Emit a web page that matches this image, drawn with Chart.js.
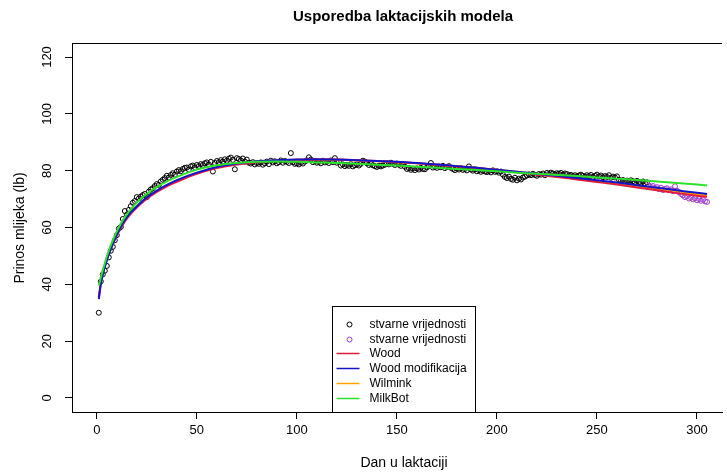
<!DOCTYPE html>
<html>
<head>
<meta charset="utf-8">
<script src="https://cdn.jsdelivr.net/npm/chart.js@4.4.0/dist/chart.umd.min.js"></script>
<style>
  html, body { margin: 0; padding: 0; background: #fff; overflow: hidden; }
  #wrap { width: 727px; height: 472px; }
</style>
</head>
<body>
<div id="wrap"><canvas id="myGraph" width="727" height="472"></canvas></div>
<script>
const titleText = "Usporedba laktacijskih modela";
const xTitle = "Dan u laktaciji";
const yTitle = "Prinos mlijeka (lb)";
const xTicks = [0, 50, 100, 150, 200, 250, 300];
const yTicks = [0, 20, 40, 60, 80, 100, 120];

// observed yield, day 1..275 (black) and day 276..305 (purple)
const firstDay = 1;
const observed = [
  30, 41, 43.5, 44.8, 46.5, 49.5, 51.8, 53.2, 55.5, 57.3,
  59.6, 60.2, 63, 65.8, 64.5, 66.2, 67.5, 68.7, 69.3, 70.7,
  70.2, 70.9, 71.4, 71.8, 70.7, 72.6, 73.4, 73.8, 74.6, 75.3,
  75.0, 76.2, 76.8, 77.4, 78.2, 77.6, 78.5, 79.1, 78.6, 79.7,
  80.2, 79.8, 80.6, 81.0, 81.1, 80.4, 81.5, 81.8, 81.2, 82.0,
  81.6, 82.3, 82.0, 82.6, 82.9, 82.2, 83.1, 79.7, 82.7, 83.4,
  83.0, 83.7, 83.2, 84.0, 83.5, 84.2, 84.6, 83.8, 80.5, 84.4,
  84.1, 83.6, 84.3, 83.2, 83.9, 82.8, 82.5, 83.0, 82.2, 82.7,
  82.4, 82.9, 82.1, 82.6, 83.2, 82.3, 83.5, 82.9, 83.3, 82.6,
  83.0, 83.6, 82.8, 83.4, 83.1, 82.7, 86.2, 83.0, 82.4, 82.6,
  82.2, 82.8, 82.5, 83.2, 83.6, 84.7, 83.9, 83.0, 83.4, 82.8,
  83.1, 82.6, 83.5, 82.9, 83.2, 82.7, 83.6, 83.0, 84.4, 82.8,
  83.1, 81.8, 82.2, 81.6, 82.0, 81.7, 82.3, 81.5, 81.9, 82.2,
  81.8, 82.4, 83.5, 83.2, 82.6, 82.0, 82.4, 81.9, 81.6, 81.3,
  81.7, 81.5, 81.8, 82.1, 82.6, 82.2, 82.8, 82.4, 82.0, 82.5,
  82.1, 81.7, 82.3, 81.4, 80.6, 80.9, 80.3, 80.7, 80.2, 80.8,
  80.4, 81.0, 80.6, 80.5, 81.2, 81.6, 82.7, 81.1, 81.4, 81.0,
  81.5, 81.2, 81.7, 80.9, 81.3, 81.6, 81.0, 80.6, 80.2, 80.7,
  80.4, 80.9, 80.3, 80.6, 80.1, 81.5, 80.4, 80.0, 80.5, 79.8,
  80.2, 79.6, 80.0, 79.7, 79.5, 79.9, 79.4, 80.1, 79.6, 79.8,
  79.3, 79.7, 78.6, 77.8, 77.4, 77.9, 77.1, 76.8, 77.5, 76.6,
  77.2, 76.9, 77.6, 77.9, 78.3, 78.7, 78.4, 78.9, 78.5, 78.2,
  78.8, 78.6, 79.0, 78.4, 79.2, 78.8, 79.3, 79.0, 78.7, 79.1,
  78.9, 79.2, 78.6, 79.0, 78.8, 78.3, 78.5, 78.1, 78.4, 78.0,
  78.3, 78.6, 78.2, 77.9, 78.4, 78.1, 78.5, 77.8, 78.2, 78.6,
  78.0, 78.3, 77.7, 78.1, 77.8, 78.4, 77.5, 77.9, 77.6, 78.0,
  76.8, 76.4, 76.7, 76.2, 76.5, 76.1, 76.6, 76.3, 75.9, 76.4,
  76.0, 75.8, 76.2, 75.6, 75.9
];
const observedLate = [
  74.8, 74.3, 74.6, 73.9, 74.2, 73.5, 74.0, 73.2, 73.6, 73.8,
  73.1, 73.4, 72.8, 74.5, 72.9, 72.4, 71.8, 71.3, 70.7, 71.0,
  70.2, 70.5, 69.9, 70.3, 69.6, 70.0, 69.4, 69.8, 69.2, 69.0
];

// fitted model curves read at these days
const curveDays = [1, 2, 3, 5, 7, 10, 13, 16, 20, 25, 30, 35, 40, 50, 60, 70, 80, 90, 100, 110,
  120, 130, 140, 150, 160, 170, 180, 190, 200, 210, 220, 230, 240, 250, 260, 270, 280, 290, 300, 305];
const wood = [35.5, 40.5, 43.8, 48.6, 52.4, 57.2, 61.0, 64.0, 67.0, 70.1, 72.5, 74.5, 76.1, 78.9, 80.9, 82.2, 83.0, 83.5, 83.8, 83.9,
  83.9, 83.7, 83.4, 83.0, 82.6, 82.1, 81.5, 80.9, 80.2, 79.4, 78.6, 77.8, 76.9, 76.0, 75.1, 74.1, 73.1, 72.1, 71.2, 70.8];
const woodMod = [34.8, 40.0, 43.5, 48.5, 52.5, 57.5, 61.5, 64.5, 67.5, 70.6, 73.0, 75.0, 76.7, 79.3, 81.3, 82.5, 83.3, 83.7, 83.9, 84.0,
  83.9, 83.7, 83.4, 83.1, 82.7, 82.2, 81.6, 81.0, 80.3, 79.6, 78.9, 78.2, 77.4, 76.6, 75.8, 74.9, 74.0, 73.1, 72.2, 71.8];
const wilmink = [35.2, 40.2, 43.6, 48.6, 52.5, 57.4, 61.3, 64.3, 67.3, 70.4, 72.8, 74.8, 76.5, 79.1, 81.1, 82.4, 83.2, 83.6, 83.8, 83.9,
  83.8, 83.6, 83.3, 83.0, 82.6, 82.1, 81.6, 81.0, 80.3, 79.6, 78.8, 78.0, 77.2, 76.4, 75.5, 74.6, 73.7, 72.8, 71.8, 71.4];
const milkBot = [39.5, 42.5, 45.0, 49.8, 53.8, 58.7, 62.6, 65.6, 68.8, 71.9, 74.3, 76.2, 77.8, 80.4, 81.9, 82.7, 83.1, 83.2, 83.1, 82.9,
  82.7, 82.4, 82.1, 81.8, 81.4, 81.0, 80.6, 80.2, 79.8, 79.3, 78.9, 78.5, 78.1, 77.6, 77.2, 76.7, 76.2, 75.7, 75.1, 74.8];

const legendLabels = ["stvarne vrijednosti", "stvarne vrijednosti", "Wood", "Wood modifikacija", "Wilmink", "MilkBot"];
const colors = { obs: "#000000", obsLate: "#a03ccc", wood: "#e01e3c", woodMod: "#1414c8", wilmink: "#ffa500", milkBot: "#2ee02e" };

const FONT = '"Liberation Sans", Arial, sans-serif';
Chart.defaults.font.family = FONT;

function pts(days, vals) {
  return vals.map((v, i) => ({ x: days[i], y: v }));
}
const obsPts = observed.map((v, i) => ({ x: firstDay + i, y: v }));
const latePts = observedLate.map((v, i) => ({ x: firstDay + observed.length + i, y: v }));

const rPlot = {
  id: "rPlot",
  afterDraw(chart) {
    const ctx = chart.ctx;
    const a = chart.chartArea;
    ctx.save();
    // box top line
    ctx.strokeStyle = "#000";
    ctx.lineWidth = 1;
    ctx.beginPath();
    ctx.moveTo(a.left, Math.round(a.top) + 0.5);
    ctx.lineTo(a.right, Math.round(a.top) + 0.5);
    ctx.stroke();

    // titles
    ctx.fillStyle = "#000";
    ctx.textAlign = "center";
    ctx.textBaseline = "middle";
    ctx.font = "bold 15px " + FONT;
    ctx.fillText(titleText, 403, 17);
    ctx.font = "14px " + FONT;
    ctx.fillText(xTitle, 404, 463);
    ctx.save();
    ctx.translate(20, 228);
    ctx.rotate(-Math.PI / 2);
    ctx.fillText(yTitle, 0, 0);
    ctx.restore();

    // legend
    const lx = 332.5, ly = 306.5, lw = 143, lh = 106;
    ctx.fillStyle = "#fff";
    ctx.fillRect(lx, ly, lw, lh);
    ctx.strokeStyle = "#000";
    ctx.strokeRect(lx, ly, lw, lh);
    const sw = [colors.obs, colors.obsLate, colors.wood, colors.woodMod, colors.wilmink, colors.milkBot];
    ctx.font = "12px " + FONT;
    ctx.textAlign = "left";
    legendLabels.forEach((lab, i) => {
      const y = Math.round(324 + i * 14.7) + 0.5;
      ctx.strokeStyle = sw[i];
      ctx.lineWidth = i < 2 ? 1 : 1.5;
      ctx.beginPath();
      if (i < 2) {
        ctx.arc(349.5, y, 2.5, 0, Math.PI * 2);
      } else {
        ctx.moveTo(336.5, y);
        ctx.lineTo(359.5, y);
      }
      ctx.stroke();
      ctx.fillStyle = "#000";
      ctx.fillText(lab, 369.5, y);
    });
    ctx.restore();
  }
};

const lineDs = (label, vals, color, order) => ({
  type: "line",
  label: label,
  data: pts(curveDays, vals),
  borderColor: color,
  backgroundColor: color,
  borderWidth: 2,
  pointRadius: 0,
  cubicInterpolationMode: "monotone",
  fill: false,
  order: order
});

new Chart(document.getElementById("myGraph").getContext("2d"), {
  type: "scatter",
  data: {
    datasets: [
      lineDs("MilkBot", milkBot, colors.milkBot, 0),
      lineDs("Wood modifikacija", woodMod, colors.woodMod, 1),
      lineDs("Wood", wood, colors.wood, 2),
      lineDs("Wilmink", wilmink, colors.wilmink, 3),
      {
        label: "stvarne vrijednosti",
        data: obsPts,
        pointStyle: "circle",
        pointRadius: 2.5,
        borderWidth: 1,
        borderColor: colors.obs,
        backgroundColor: "rgba(0,0,0,0)",
        order: 5
      },
      {
        label: "stvarne vrijednosti",
        data: latePts,
        pointStyle: "circle",
        pointRadius: 2.5,
        borderWidth: 1,
        borderColor: colors.obsLate,
        backgroundColor: "rgba(0,0,0,0)",
        order: 4
      }
    ]
  },
  options: {
    responsive: false,
    animation: false,
    layout: { padding: { top: 43, right: 0, left: 0, bottom: 0 } },
    plugins: { legend: { display: false }, tooltip: { enabled: false }, title: { display: false } },
    scales: {
      x: {
        type: "linear",
        min: -12.4,
        max: 312.5,
        afterBuildTicks: (s) => { s.ticks = xTicks.map(v => ({ value: v })); },
        afterFit: (s) => { s.height = 60; },
        grid: { display: true, drawOnChartArea: false, drawTicks: true, tickLength: 7, color: "#000" },
        border: { display: true, color: "#000", width: 1 },
        ticks: { color: "#000", font: { size: 13 }, padding: 4, maxRotation: 0, autoSkip: false }
      },
      y: {
        type: "linear",
        min: -4.93,
        max: 124.93,
        afterBuildTicks: (s) => { s.ticks = yTicks.map(v => ({ value: v })); },
        afterFit: (s) => { s.width = 72; },
        grid: { display: true, drawOnChartArea: false, drawTicks: true, tickLength: 7, color: "#000" },
        border: { display: true, color: "#000", width: 1 },
        ticks: { color: "#000", font: { size: 13 }, padding: 7, minRotation: 90, maxRotation: 90, crossAlign: "center", autoSkip: false }
      }
    }
  },
  plugins: [rPlot]
});
</script>
</body>
</html>
